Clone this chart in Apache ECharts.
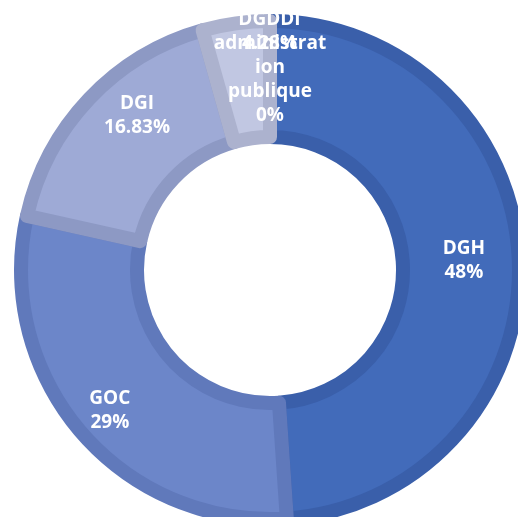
<!DOCTYPE html>
<html>
<head>
<meta charset="utf-8">
<script src="https://cdn.jsdelivr.net/npm/echarts@6/dist/echarts.min.js"></script>
<style>
  html, body { margin: 0; padding: 0; background: #ffffff; }
  #chart { width: 518px; height: 517px; }
</style>
</head>
<body>
<div id="chart"></div>
<script>
// Répartition par direction
const categories = ['DGH', 'GOC', 'DGI', 'DGDDI', 'administration publique'];
const values = [48, 29, 16.83, 4.28, 0];
const fillColors = ['#426bba', '#6c86c9', '#9eaad6', '#c1c7e2', '#c1c7e2'];
const edgeColors = ['#3a5faa', '#6079bb', '#8d99c4', '#acb2ce', '#acb2ce'];
// label nudges (px) so each label sits where it reads best
const labelOffsets = [[0, -3], [-13, 14], [8, -21], [26, -46], [0, 4]];

const chart = echarts.init(document.getElementById('chart'), null, { renderer: 'canvas' });

const data = categories.map((name, i) => ({
  name: name,
  value: values[i],
  itemStyle: {
    color: fillColors[i],
    borderColor: edgeColors[i],
    borderWidth: values[i] === 0 ? 0 : 14
  },
  label: { offset: labelOffsets[i] }
}));

chart.setOption({
  animation: false,
  backgroundColor: '#ffffff',
  series: [{
    type: 'pie',
    center: [270, 270],
    radius: [133, 249],
    startAngle: 90,
    clockwise: true,
    avoidLabelOverlap: false,
    minShowLabelAngle: 0,
    label: {
      show: true,
      position: 'inside',
      color: '#ffffff',
      fontFamily: 'Open Sans',
      fontWeight: 'bold',
      fontSize: 19,
      lineHeight: 24,
      width: 114,
      overflow: 'breakAll',
      align: 'center',
      // one word per line; over-long words are cut by the label width
      formatter: p => p.name.split(' ').join('\n') + '\n' + p.value + '%'
    },
    labelLine: { show: false },
    emphasis: { disabled: true },
    data: data
  }]
});

// The pie layout drops labels of zero-angle sectors; keep them visible,
// since a 0% share is still reported.
const pieData = chart.getModel().getSeriesByIndex(0).getData();
pieData.each(idx => {
  const el = pieData.getItemGraphicEl(idx);
  const text = el && el.getTextContent();
  if (text && text.ignore) {
    text.ignore = false;
    text.markRedraw();
  }
});
chart.getZr().refreshImmediately();
</script>
</body>
</html>
